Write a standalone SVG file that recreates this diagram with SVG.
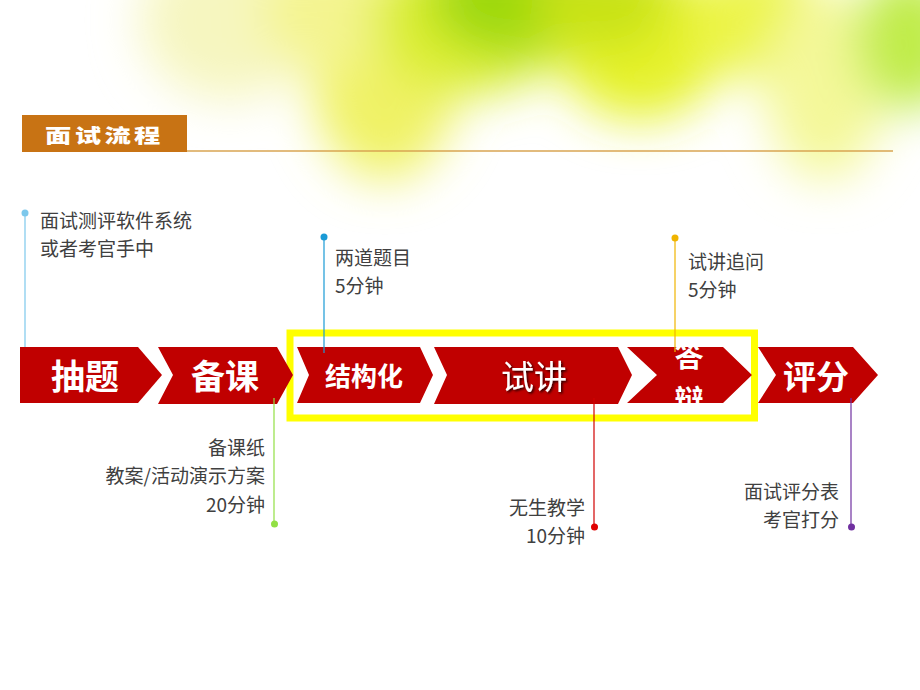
<svg xmlns="http://www.w3.org/2000/svg" width="920" height="690" viewBox="0 0 920 690">
  <defs>
    <filter id="blur" x="-50%" y="-50%" width="200%" height="200%">
      <feGaussianBlur stdDeviation="24"/>
    </filter>
    <filter id="shadow" x="-20%" y="-20%" width="140%" height="140%">
      <feDropShadow dx="1.5" dy="1.5" stdDeviation="0.8" flood-color="#000" flood-opacity="0.8"/>
    </filter>
    <style>
      .chev { fill: #c00000; }
      .ct { fill: #ffffff; font-family: "Noto Sans CJK SC", "Noto Sans", sans-serif; text-anchor: middle; }
      .lbl { fill: #404040; font-family: "Noto Sans CJK SC", "Noto Sans", sans-serif; font-size: 19px; }
      .r { text-anchor: end; }
      .ln { stroke-width: 1.2; fill: none; }
    </style>
  </defs>

  <rect width="920" height="690" fill="#ffffff"/>

  <!-- background glow -->
  <g id="background" filter="url(#blur)">
    <ellipse cx="230" cy="20" rx="90" ry="80" fill="#f6f6c0"/>
    <ellipse cx="385" cy="70" rx="75" ry="110" fill="#f0f266"/>
    <ellipse cx="330" cy="10" rx="70" ry="60" fill="#f4f490"/>
    <ellipse cx="470" cy="20" rx="100" ry="75" fill="#dcee30"/>
    <ellipse cx="520" cy="0" rx="90" ry="55" fill="#9cd810"/>
    <ellipse cx="640" cy="40" rx="85" ry="80" fill="#e6f22a"/>
    <ellipse cx="600" cy="0" rx="70" ry="50" fill="#c8e218"/>
    <ellipse cx="760" cy="20" rx="70" ry="60" fill="#ecf44a"/>
    <ellipse cx="825" cy="85" rx="60" ry="95" fill="#f4f89a"/>
    <ellipse cx="910" cy="40" rx="55" ry="70" fill="#c0ec48"/>
  </g>

  <!-- header -->
  <g id="header">
    <line x1="187" y1="151" x2="893" y2="151" stroke="#d8a452" stroke-width="1.5"/>
    <rect x="22" y="115" width="165" height="37" fill="#c87314"/>
    <text transform="translate(45,143) scale(1.35,1)" x="0" y="0" fill="#ffffff" font-family="Noto Sans CJK SC, sans-serif" font-weight="900" font-size="19.5" letter-spacing="2.5">面试流程</text>
  </g>

  <!-- highlight frame -->
  <rect id="highlight" x="290" y="333" width="464.5" height="85" fill="none" stroke="#ffff00" stroke-width="7"/>

  <!-- chevrons -->
  <g id="node-chouti">
    <path class="chev" d="M20,347 L138,347 L162,375 L138,403 L20,403 Z"/>
    <text class="ct" x="85" y="389" font-size="34" font-weight="bold">抽题</text>
  </g>
  <g id="node-beike">
    <path class="chev" d="M158,347 L277,347 L293,375 L277,404 L158,404 L173,375 Z"/>
    <text class="ct" x="225" y="389" font-size="34" font-weight="bold">备课</text>
  </g>
  <g id="node-jiegouhua">
    <path class="chev" d="M297,347 L420,347 L433,375 L420,403 L297,403 L309,375 Z"/>
    <text class="ct" x="364" y="386" font-size="26" font-weight="bold">结构化</text>
  </g>
  <g id="node-shijiang">
    <path class="chev" d="M434,347 L618,347 L632,375 L618,404 L434,404 L447,375 Z"/>
    <text class="ct" x="534" y="389" font-size="33" filter="url(#shadow)">试讲</text>
  </g>
  <g id="node-dabian">
    <path class="chev" d="M627,347 L723,347 L752,375 L723,403 L627,403 L657,375 Z"/>
    <text class="ct" x="689" y="367" font-size="29" font-weight="bold">答</text>
    <text class="ct" x="689" y="411" font-size="29" font-weight="bold">辩</text>
  </g>
  <g id="node-pingfen">
    <path class="chev" d="M758,347 L853,347 L878,375 L853,403 L758,403 L776,375 Z"/>
    <text class="ct" x="816" y="389" font-size="33" font-weight="bold">评分</text>
  </g>

  <!-- callout connectors -->
  <g id="connectors">
    <line class="ln" x1="25" y1="213" x2="25" y2="347" stroke="#7cc8ec"/>
    <circle cx="25" cy="213" r="3.5" fill="#7cc8ec"/>
    <line class="ln" x1="324" y1="237" x2="324" y2="353" stroke="#1a9ad6"/>
    <circle cx="324" cy="237" r="3.5" fill="#1a9ad6"/>
    <line class="ln" x1="675" y1="238" x2="675" y2="352" stroke="#f0b400"/>
    <circle cx="675" cy="238" r="3.5" fill="#f0b400"/>
    <line class="ln" x1="274" y1="398" x2="274" y2="524" stroke="#92e044"/>
    <circle cx="274.5" cy="524" r="3.5" fill="#92e044"/>
    <line class="ln" x1="594" y1="398" x2="594" y2="527" stroke="#d00000"/>
    <circle cx="594.5" cy="527" r="3.5" fill="#e00000"/>
    <line class="ln" x1="851" y1="398" x2="851" y2="527" stroke="#7030a0"/>
    <circle cx="851.5" cy="527" r="3.5" fill="#7030a0"/>
  </g>

  <!-- labels -->
  <g id="label-chouti">
    <text class="lbl" x="40" y="228">面试测评软件系统</text>
    <text class="lbl" x="40" y="256">或者考官手中</text>
  </g>
  <g id="label-jiegouhua">
    <text class="lbl" x="335" y="265">两道题目</text>
    <text class="lbl" x="335" y="293">5分钟</text>
  </g>
  <g id="label-dabian">
    <text class="lbl" x="688" y="269">试讲追问</text>
    <text class="lbl" x="688" y="297">5分钟</text>
  </g>
  <g id="label-beike">
    <text class="lbl r" x="265" y="455">备课纸</text>
    <text class="lbl r" x="265" y="483">教案/活动演示方案</text>
    <text class="lbl r" x="265" y="512">20分钟</text>
  </g>
  <g id="label-shijiang">
    <text class="lbl r" x="585" y="515">无生教学</text>
    <text class="lbl r" x="585" y="543">10分钟</text>
  </g>
  <g id="label-pingfen">
    <text class="lbl r" x="839" y="499">面试评分表</text>
    <text class="lbl r" x="839" y="527">考官打分</text>
  </g>
</svg>
